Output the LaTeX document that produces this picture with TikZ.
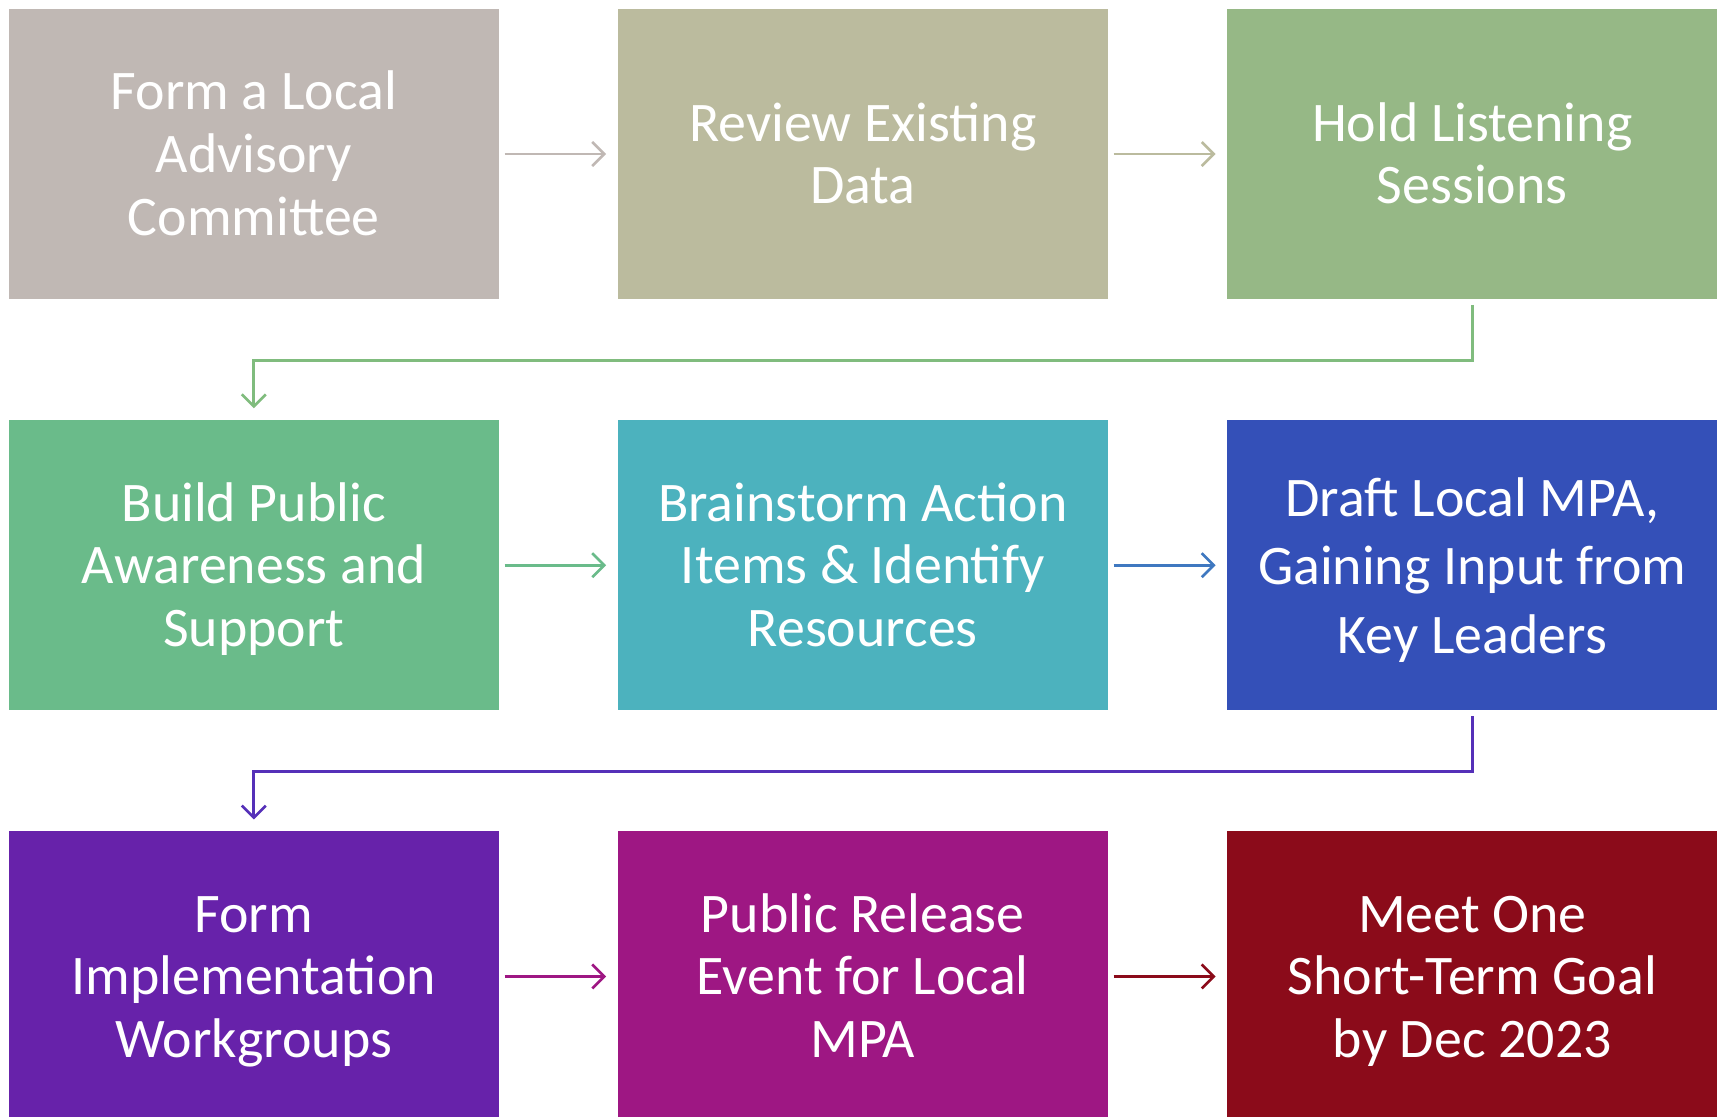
\documentclass[tikz,border=0pt]{standalone}
\usepackage{fontspec}
\setmainfont{Carlito}
\usetikzlibrary{arrows.meta}
\definecolor{committee}{HTML}{C0B8B4}
\definecolor{review}{HTML}{BBBB9E}
\definecolor{listen}{HTML}{96B886}
\definecolor{aware}{HTML}{6ABB8A}
\definecolor{brain}{HTML}{4CB2BE}
\definecolor{draft}{HTML}{3450B8}
\definecolor{workgrp}{HTML}{6722AA}
\definecolor{release}{HTML}{9E1783}
\definecolor{goal}{HTML}{8B0B1A}
\definecolor{elbowA}{HTML}{80BC7E}
\definecolor{arrowB}{HTML}{3F78C0}
\definecolor{elbowB}{HTML}{5530B8}
\def\topstrut{\rule{0pt}{\dimexpr0.7\baselineskip+3.4pt\relax}}
\tikzset{
	stepbox/.style={rectangle,minimum width=4.9cm,minimum height=2.905cm,inner sep=0pt,
		text=white,align=center,font=\fontsize{15.9}{17.8}\selectfont},
	flow/.style={line width=0.75pt,shorten <=0.05cm,shorten >=0.11cm,
		-{Straight Barb[length=1.2mm,width=2.4mm]}},
	}
\begin{document}
\begin{tikzpicture}
\useasboundingbox (0,0) rectangle (17.19,-11.16);

\node (b1) at (2.538,-1.540) [stepbox,fill=committee] {\topstrut Form a Local\\Advisory\\Committee\strut};
\node (b2) at (8.628,-1.540) [stepbox,fill=review] {\topstrut Review Existing\\Data\strut};
\node (b3) at (14.723,-1.540) [stepbox,fill=listen] {\topstrut Hold Listening\\Sessions\strut};
\node (b4) at (2.538,-5.652) [stepbox,fill=aware] {\topstrut Build Public\\Awareness and\\Support\strut};
\node (b5) at (8.628,-5.652) [stepbox,fill=brain] {\topstrut Brainstorm Action\\Items \& Identify\\Resources\strut};
\node (b6) at (14.723,-5.652) [stepbox,fill=draft,font=\fontsize{15.9}{19.4}\selectfont] {\topstrut Draft Local MPA,\\Gaining Input from\\Key Leaders\strut};
\node (b7) at (2.538,-9.764) [stepbox,fill=workgrp] {\topstrut Form\\Implementation\\Workgroups\strut};
\node (b8) at (8.628,-9.764) [stepbox,fill=release] {\topstrut Public Release\\Event for Local\\MPA\strut};
\node (b9) at (14.723,-9.764) [stepbox,fill=goal] {\topstrut Meet One\\Short-Term Goal\\by Dec 2023\strut};

\draw [flow,committee] (b1)--(b2);
\draw [flow,review] (b2)--(b3);
\draw [flow,elbowA] (b3.south) -- ++(0,-0.605) -| (b4.north);
\draw [flow,aware] (b4)--(b5);
\draw [flow,arrowB] (b5)--(b6);
\draw [flow,elbowB] (b6.south) -- ++(0,-0.605) -| (b7.north);
\draw [flow,release] (b7)--(b8);
\draw [flow,goal] (b8)--(b9);
\end{tikzpicture}
\end{document}
